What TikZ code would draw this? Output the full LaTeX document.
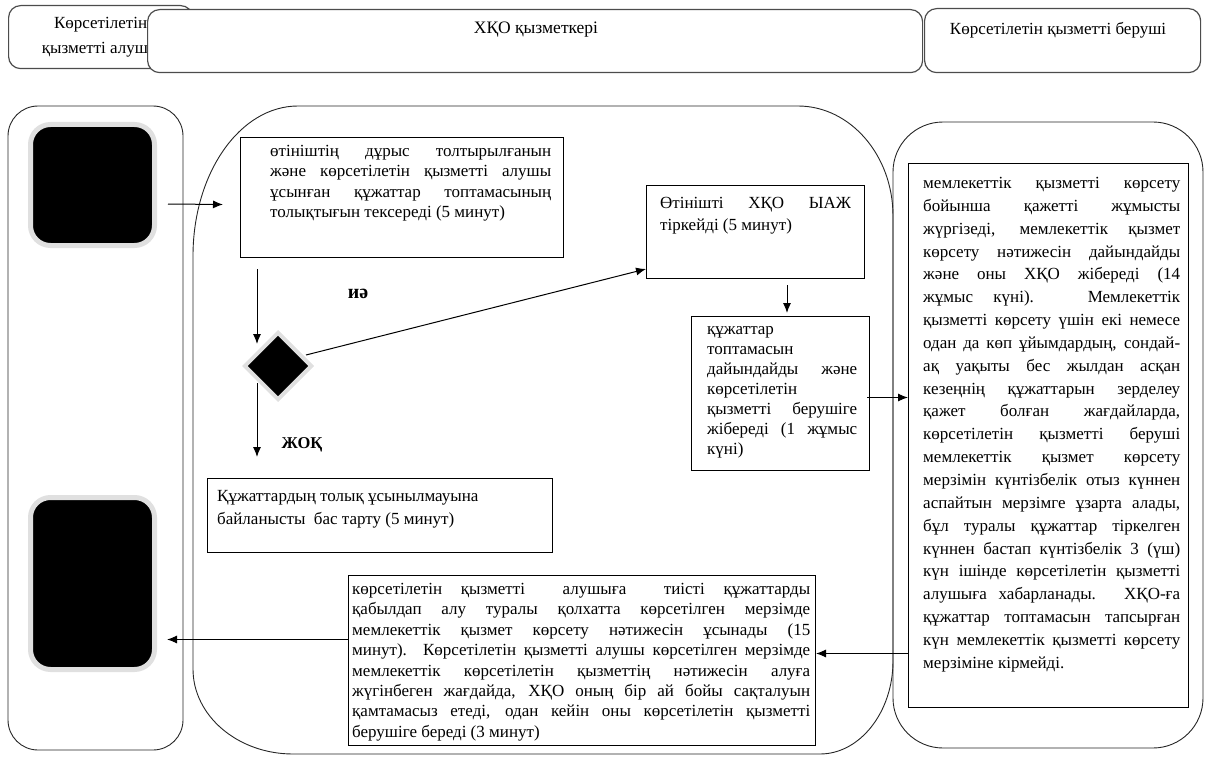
\documentclass[tikz,border=0pt]{standalone}
\usepackage{fontspec}
\setmainfont{Liberation Serif}
\usetikzlibrary{arrows.meta,shapes.geometric,calc}
\setlength{\parindent}{0pt}
\begin{document}
\begin{tikzpicture}[x=1pt,y=-1pt,
  lane/.style={draw=black!85, line width=0.9pt},
  hdr/.style={draw=black!70, line width=1.2pt, rounded corners=12pt, fill=white, inner sep=0pt},
  box/.style={draw=black, line width=1pt, fill=white, inner sep=0pt, anchor=north west},
  txt/.style={anchor=north west, inner sep=0pt, align=justify},
  blk/.style={fill=black, draw=black!12, line width=5pt, rounded corners=20pt, inner sep=0pt},
  arr/.style={-{Latex[length=10pt,width=8pt]}, line width=1pt},
  lbl/.style={inner sep=0pt}
]
\useasboundingbox (0,0) rectangle (1205,757);
\hyphenpenalty=10000
% headers
\node[hdr, anchor=north west, minimum width=184, minimum height=63, align=center,
  font=\fontsize{17}{25}\selectfont] (hL) at (8,5) {Көрсетілетін\\қызметті алушы};
\node[hdr, anchor=north west, minimum width=775, minimum height=63] (hM) at (147,9) {};
\node[font=\fontsize{17.5}{20}\selectfont, inner sep=0pt] (hMt) at (536,30) {ХҚО қызметкері};
\node[hdr, anchor=north west, minimum width=276, minimum height=64] (hR) at (924,8) {};
\node[font=\fontsize{17}{20}\selectfont, inner sep=0pt] (hRt) at (1058,30) {Көрсетілетін қызметті беруші};
% lanes
\draw[lane, rounded corners=30pt] (8,106) rectangle (183,750);
\draw[lane] (193,256) .. controls (193,173) and (240,106) .. (298,106)
  -- (798,106) .. controls (850,106) and (893,155) .. (893,216)
  -- (893,661) .. controls (893,712) and (860,754) .. (820,754)
  -- (293,754) .. controls (238,754) and (193,716) .. (193,669) -- cycle;
\draw[lane, rounded corners=50pt] (893,122) rectangle (1203,748);
% start / end
\node[blk, minimum width=124, minimum height=121] (start) at (92.5,185) {};
\node[blk, minimum width=124, minimum height=172] (end) at (92.5,583.5) {};
% box 1
\node[box, minimum width=323, minimum height=120] (b1) at (240,137) {};
\node[txt, text width=281, font=\fontsize{17}{20.5}\selectfont] (b1t) at (270,145)
 {өтініштің дұрыс толтырылғанын\linebreak
  және көрсетілетін қызметті алушы\linebreak
  ұсынған құжаттар топтамасының\linebreak
  толықтығын тексереді (5 минут)};
% diamond
\node[diamond, fill=black, draw=black!12, line width=4pt, minimum width=68, minimum height=68, inner sep=0pt] (dia) at (278,366) {};
\node[lbl, font=\fontsize{20}{22}\selectfont\bfseries] (yes) at (358,294) {иә};
\node[lbl, font=\fontsize{16.5}{20}\selectfont\bfseries] (no) at (302,445) {ЖОҚ};
% reject box
\node[box, minimum width=345, minimum height=74] (rej) at (207,478) {};
\node[txt, text width=330, font=\fontsize{17}{23}\selectfont] (rejt) at (217,490)
 {Құжаттардың толық ұсынылмауына\newline
  байланысты\ \ бас тарту (5 минут)};
% box 2
\node[box, minimum width=218, minimum height=93] (b2) at (646,185) {};
\node[txt, text width=191, font=\fontsize{17}{22}\selectfont] (b2t) at (660,197)
 {Өтінішті ХҚО ЫАЖ\linebreak тіркейді (5 минут)};
% box 3
\node[box, minimum width=178, minimum height=154] (b3) at (691,316) {};
\node[txt, text width=150, font=\fontsize{17}{20}\selectfont] (b3t) at (707,326)
 {құжаттар\linebreak
  топтамасын\linebreak
  дайындайды және\linebreak
  көрсетілетін\linebreak
  қызметті берушіге\linebreak
  жібереді (1 жұмыс\linebreak
  күні)};
% right box
\node[box, minimum width=280, minimum height=544] (rb) at (908,163) {};
\node[txt, text width=257, font=\fontsize{17}{22.85}\selectfont] (rbt) at (923,177)
 {мемлекеттік қызметті көрсету\linebreak
  бойынша қажетті жұмысты\linebreak
  жүргізеді, мемлекеттік қызмет\linebreak
  көрсету нәтижесін дайындайды\linebreak
  және оны ХҚО жібереді (14\linebreak
  жұмыс күні). Мемлекеттік\linebreak
  қызметті көрсету үшін екі немесе\linebreak
  одан да көп ұйымдардың, сондай-\linebreak
  ақ уақыты бес жылдан асқан\linebreak
  кезеңнің құжаттарын зерделеу\linebreak
  қажет болған жағдайларда,\linebreak
  көрсетілетін қызметті беруші\linebreak
  мемлекеттік қызмет көрсету\linebreak
  мерзімін күнтізбелік отыз күннен\linebreak
  аспайтын мерзімге ұзарта алады,\linebreak
  бұл туралы құжаттар тіркелген\linebreak
  күннен бастап күнтізбелік 3 (үш)\linebreak
  күн ішінде көрсетілетін қызметті\linebreak
  алушыға хабарланады. ХҚО-ға\linebreak
  құжаттар топтамасын тапсырған\linebreak
  күн мемлекеттік қызметті көрсету\linebreak
  мерзіміне кірмейді.};
% bottom box
\node[box, minimum width=467, minimum height=170] (bb) at (348,575) {};
\node[txt, text width=458, font=\fontsize{17}{20.4}\selectfont] (bbt) at (352,583)
 {көрсетілетін қызметті\ \ алушыға\ \ тиісті құжаттарды\linebreak
  қабылдап алу туралы қолхатта көрсетілген мерзімде\linebreak
  мемлекеттік қызмет көрсету нәтижесін ұсынады (15\linebreak
  минут). Көрсетілетін қызметті алушы көрсетілген мерзімде\linebreak
  мемлекеттік көрсетілетін қызметтің нәтижесін алуға\linebreak
  жүгінбеген жағдайда, ХҚО оның бір ай бойы сақталуын\linebreak
  қамтамасыз етеді, одан кейін оны көрсетілетін қызметті\linebreak
  берушіге береді (3 минут)};
% connectors
\coordinate (p3) at ($(b3.east)+(-3,4)$);
\coordinate (p4) at ($(bb.east)+(0,-7)$);
\coordinate (p5) at ($(bb.west)+(0,-21)$);
\draw[arr] ($(start.east)+(11,19)$) -- ($(b1.west)+(-17,7)$);
\draw[arr] ($(b1.south west)+(17,11)$) -- ($(dia.center)+(-21,-22)$);
\draw[arr] ($(dia.center)+(-21,17)$) -- ($(rej.north west)+(50,-21)$);
\draw[arr] ($(dia.center)+(28,-11)$) -- ($(b2.south west)+(0,-10)$);
\draw[arr] ($(b2.south west)+(141,6)$) -- ($(b3.north west)+(96,-3)$);
\draw[arr] (p3) -- (p3 -| rb.west);
\draw[arr] (p4 -| rb.west) -- (p4);
\draw[arr] (p5) -- ($(p5 -| end.east)+(10,0)$);
\end{tikzpicture}
\end{document}
